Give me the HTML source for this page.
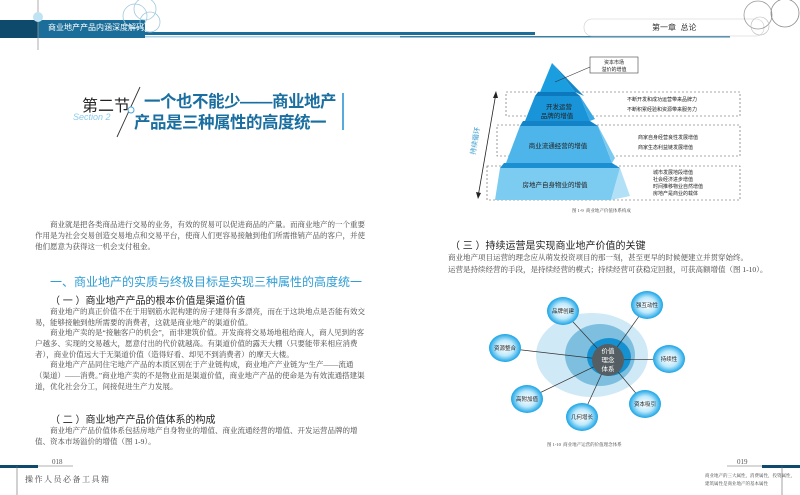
<!DOCTYPE html>
<html><head><meta charset="utf-8"><style>
body{margin:0;width:800px;height:495px;position:relative;background:#fff;overflow:hidden;font-family:"Liberation Serif","Noto Serif CJK SC",serif;color:#333}
.a{position:absolute;white-space:nowrap}
.s{font-family:"Liberation Sans","Noto Sans CJK SC",sans-serif}
.p{font-size:7.5px;line-height:11px;color:#444}
</style></head><body>
<svg class="a" style="left:0;top:0" width="800" height="495">
<rect x="0" y="20" width="38" height="18" fill="#0d4a6b"/>
<rect x="38" y="20" width="107" height="18" fill="#1b6e99"/>
<rect x="145" y="32" width="255" height="3" fill="#1b6e99"/>
<rect x="145" y="36" width="255" height="1.5" fill="#a9cfe0"/>
<line x1="38" y1="0" x2="38" y2="50" stroke="#999" stroke-width="0.8"/>
<circle cx="38" cy="17" r="5" fill="#bfe3f3"/>
<circle cx="135" cy="16" r="12" fill="none" stroke="#a0c8dc" stroke-width="0.8"/>
<circle cx="145" cy="9" r="11" fill="none" stroke="#a0c8dc" stroke-width="0.8"/>
<circle cx="150" cy="22" r="10" fill="none" stroke="#a0c8dc" stroke-width="0.8"/>
<rect x="400" y="32" width="135" height="3" fill="#1b6e99"/>
<rect x="400" y="36" width="330" height="1.5" fill="#3a7fa3"/>
<rect x="584" y="19" width="180" height="17" rx="8" fill="#fff" stroke="#ccc" stroke-width="0.6"/>
<circle cx="758" cy="15" r="14" fill="none" stroke="#999" stroke-width="0.8"/>
<circle cx="760" cy="26" r="9" fill="none" stroke="#bbb" stroke-width="0.6"/>
<circle cx="785" cy="13" r="14" fill="none" stroke="#888" stroke-width="0.8"/>
<line x1="140" y1="87" x2="117" y2="137" stroke="#333" stroke-width="0.9"/>
<circle cx="131" cy="110" r="3" fill="#fff" stroke="#4aa8d8" stroke-width="1"/>
<line x1="343" y1="93" x2="343" y2="130" stroke="#1f8fd0" stroke-width="1.5"/>
<rect x="0" y="465" width="38" height="3" fill="#0d4a6b"/>
<line x1="38" y1="466" x2="73" y2="466" stroke="#666" stroke-width="0.6"/>
<line x1="17" y1="466" x2="17" y2="495" stroke="#666" stroke-width="0.6"/>
<rect x="762" y="465" width="38" height="3" fill="#0d4a6b"/>
<line x1="727" y1="466" x2="762" y2="466" stroke="#666" stroke-width="0.6"/>
<line x1="782" y1="466" x2="782" y2="495" stroke="#666" stroke-width="0.6"/>
<g fill="none" stroke="#555" stroke-width="0.6" stroke-dasharray="2,2">
<rect x="506" y="92" width="234" height="24"/>
<rect x="497" y="125" width="243" height="31"/>
<rect x="487" y="166" width="253" height="34"/>
<rect x="590" y="57" width="48" height="16" stroke-dasharray="none" stroke="#444"/>
</g>
<polygon points="552,63 584,96 575,92" fill="#1587c9"/>
<polygon points="552,63 540,92 575,92" fill="#1a9ee0"/>
<polygon points="538,92 575,92 580,96 535,96" fill="#0c78bd"/>
<polygon points="535,96 580,96 590,121 525,121" fill="#1a94d8"/>
<polygon points="580,96 595,119 590,121" fill="#3aa8e3"/>
<polygon points="523,121 590,121 598,126 520,126" fill="#1382c7"/>
<polygon points="520,126 598,126 612,163 506,163" fill="#4db5ea"/>
<polygon points="598,126 615,158 612,163" fill="#7ccaf0"/>
<polygon points="504,163 612,163 620,168 500,168" fill="#1b8fd2"/>
<polygon points="500,168 620,168 611,200 495,200" fill="#7ccbf0"/>
<polygon points="620,168 630,196 611,200" fill="#b2e0f7"/>
<line x1="555" y1="82" x2="590" y2="67" stroke="#333" stroke-width="0.6"/>
<line x1="496" y1="93" x2="478" y2="197" stroke="#222" stroke-width="0.8"/>
<polygon points="496,91 493,98 498,98" fill="#222"/>
<polygon points="478,199 476,192 481,193" fill="#222"/>
<defs><radialGradient id="g" cx="50%" cy="50%" r="50%"><stop offset="0" stop-color="#fff"/><stop offset="0.55" stop-color="#bfe9fb"/><stop offset="1" stop-color="#19a4e6"/></radialGradient></defs>
<ellipse cx="592" cy="355" rx="56" ry="42" fill="#cfe9f6"/>
<ellipse cx="600" cy="355" rx="35" ry="31" fill="#7ebfdf"/>
<ellipse cx="609" cy="357" rx="22" ry="19" fill="#1590d0"/>
<g stroke="#333" stroke-width="0.7">
<line x1="608" y1="360" x2="563" y2="311"/><line x1="608" y1="360" x2="647" y2="305"/>
<line x1="608" y1="360" x2="505" y2="348"/><line x1="608" y1="360" x2="669" y2="359"/>
<line x1="608" y1="360" x2="527" y2="399"/><line x1="608" y1="360" x2="582" y2="417"/>
<line x1="608" y1="360" x2="645" y2="404"/></g>
<circle cx="608" cy="360" r="16" fill="#555e63"/>
<g fill="url(#g)">
<ellipse cx="563" cy="311" rx="16" ry="14"/><ellipse cx="647" cy="305" rx="16" ry="14"/>
<ellipse cx="505" cy="348" rx="16" ry="14"/><ellipse cx="669" cy="359" rx="16" ry="14"/>
<ellipse cx="527" cy="399" rx="16" ry="14"/><ellipse cx="582" cy="417" rx="16" ry="14"/>
<ellipse cx="645" cy="404" rx="16" ry="14"/></g>
<g font-family="Liberation Sans,Noto Sans CJK SC,sans-serif" font-size="5.5" fill="#222" text-anchor="middle">
<text x="563" y="313">品牌创建</text><text x="647" y="307">强互动性</text>
<text x="505" y="350">资源整合</text><text x="669" y="361">持续性</text>
<text x="527" y="401">高附加值</text><text x="582" y="419">几何增长</text>
<text x="645" y="406">资本吸引</text></g>
<g font-family="Liberation Sans,Noto Sans CJK SC,sans-serif" font-size="6.5" fill="#fff" text-anchor="middle">
<text x="608" y="353">价值</text><text x="608" y="362">理念</text><text x="608" y="371">体系</text></g>
<g font-family="Liberation Sans,Noto Sans CJK SC,sans-serif" font-size="5" fill="#222">
<text x="614" y="64" text-anchor="middle">资本市场</text><text x="614" y="71" text-anchor="middle">溢价的增值</text>
<text x="627" y="101">不断开发和成功运营带来品牌力</text><text x="627" y="111">不断积累经验和资源带来服务力</text>
<text x="638" y="139">商家自身经营良性发展增值</text><text x="638" y="149">商家生态利益链发展增值</text>
<text x="653" y="174">城市发展地段增值</text><text x="653" y="181">社会经济进步增值</text>
<text x="653" y="188">时间推移物业自然增值</text><text x="653" y="195">房地产是商业的载体</text>
</g>
<g font-family="Liberation Sans,Noto Sans CJK SC,sans-serif" font-size="6.5" fill="#222" text-anchor="middle">
<text x="559" y="109">开发运营</text><text x="557" y="118">品牌的增值</text>
<text x="558" y="148">商业流通经营的增值</text>
<text x="555" y="187">房地产自身物业的增值</text></g>
<text x="0" y="0" transform="translate(475,155) rotate(-80)" font-family="Liberation Sans,Noto Sans CJK SC,sans-serif" font-size="7" fill="#3a9ed0">持续循环</text>
</svg>

<div class="a s" style="left:48px;top:22px;font-size:8px;color:#fff">商业地产产品内涵深度解码</div>
<div class="a s" style="left:652px;top:22px;font-size:8px;color:#333">第一章&nbsp;&nbsp;总论</div>

<div class="a s" style="left:82px;top:92px;font-size:16px;color:#222">第二节</div>
<div class="a s" style="left:73px;top:112px;font-size:9px;color:#8ccbec;font-style:italic">Section 2</div>
<div class="a s" style="left:144px;top:88px;font-size:16.5px;font-weight:bold;color:#1a6fa0;letter-spacing:-0.5px">一个也不能少——商业地产</div>
<div class="a s" style="left:134px;top:109px;font-size:16.5px;font-weight:bold;color:#1a6fa0;letter-spacing:-0.5px">产品是三种属性的高度统一</div>

<div class="a p" style="left:35px;top:219px;width:332px;white-space:normal;text-indent:15px">商业就是把各类商品进行交易的业务，有效的贸易可以促进商品的产量。而商业地产的一个重要作用是为社会交易创造交易地点和交易平台，使商人们更容易接触到他们所需推销产品的客户，并使他们愿意为获得这一机会支付租金。</div>

<div class="a s" style="left:50px;top:273px;font-size:12px;color:#2e9dd4">一、商业地产的实质与终极目标是实现三种属性的高度统一</div>
<div class="a s" style="left:50px;top:292px;font-size:10px;color:#222">（ 一 ）商业地产产品的根本价值是渠道价值</div>
<div class="a p" style="left:35px;top:306px;width:332px;white-space:normal;text-indent:15px">商业地产的真正价值不在于用钢筋水泥构建的房子建得有多漂亮，而在于这块地点是否能有效交易，能够接触到他所需要的消费者，这就是商业地产的渠道价值。</div>
<div class="a p" style="left:35px;top:327px;width:332px;white-space:normal;text-indent:15px">商业地产卖的是“接触客户的机会”，而非建筑价值。开发商将交易场地租给商人，商人见到的客户越多、实现的交易越大，愿意付出的代价就越高。有渠道价值的露天大棚（只要能带来相应消费者），商业价值远大于无渠道价值（造得好看、却见不到消费者）的摩天大楼。</div>
<div class="a p" style="left:35px;top:359px;width:332px;white-space:normal;text-indent:15px">商业地产产品同住宅地产产品的本质区别在于产业链构成，商业地产产业链为“生产——流通（渠道）——消费。”商业地产卖的不是物业而是渠道价值，商业地产产品的使命是为有效流通搭建渠道，优化社会分工，间接促进生产力发展。</div>

<div class="a s" style="left:50px;top:411px;font-size:10px;color:#222">（ 二 ）商业地产产品价值体系的构成</div>
<div class="a p" style="left:35px;top:425px;width:332px;white-space:normal;text-indent:15px">商业地产产品价值体系包括房地产自身物业的增值、商业流通经营的增值、开发运营品牌的增值、资本市场溢价的增值（图 1-9）。</div>

<div class="a" style="left:52px;top:458px;font-size:7px;color:#555">018</div>
<div class="a" style="left:25px;top:474px;font-size:8px;color:#444;letter-spacing:1.5px">操作人员必备工具箱</div>

<div class="a" style="left:572px;top:208px;font-size:4.5px;color:#444">图 1-9&nbsp;&nbsp;商业地产价值体系构成</div>

<div class="a s" style="left:450px;top:237px;font-size:10px;color:#222">（ 三 ）持续运营是实现商业地产价值的关键</div>
<div class="a p" style="left:448px;top:252px">商业地产项目运营的理念应从萌发投资项目的那一刻，甚至更早的时候便建立并贯穿始终。</div>
<div class="a p" style="left:448px;top:264px">运营是持续经营的手段，是持续经营的模式；持续经营可获稳定回报，可获高额增值（图 1-10）。</div>

<div class="a" style="left:547px;top:442px;font-size:4.5px;color:#444">图 1-10&nbsp;&nbsp;商业地产运营的价值理念体系</div>

<div class="a" style="left:737px;top:458px;font-size:7px;color:#555">019</div>
<div class="a" style="left:705px;top:472px;font-size:4.5px;line-height:8px;color:#444">商业地产的三大属性，消费属性，投资属性，<br>建筑属性是商业地产的基本属性</div>
</body></html>
